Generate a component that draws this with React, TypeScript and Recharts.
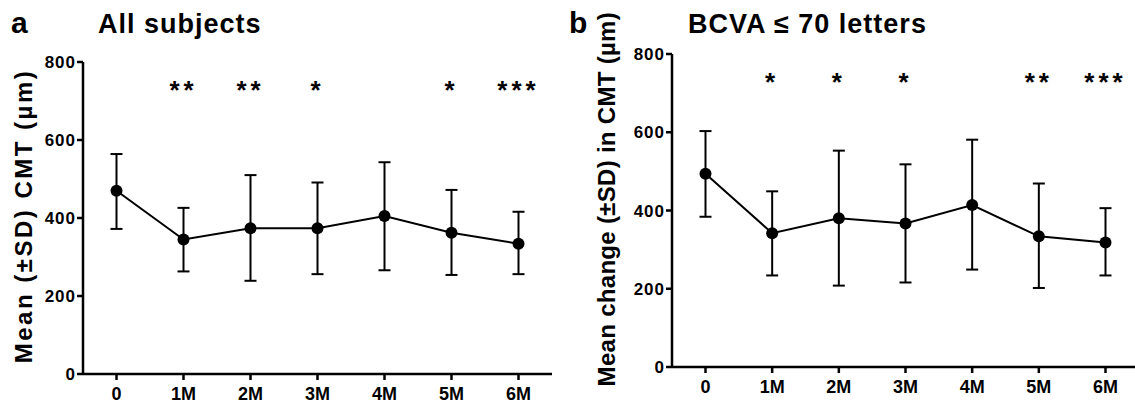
import React from "react";
import {
  LineChart,
  Line,
  XAxis,
  YAxis,
  ErrorBar,
  LabelList,
} from "recharts";

const FONT = '"Liberation Sans", Arial, sans-serif';

const months = ["0", "1M", "2M", "3M", "4M", "5M", "6M"];
const yTicks = [0, 200, 400, 600, 800];

// panel a - all subjects
const allMean = [470, 345, 374, 374, 405, 362, 334];
const allUpper = [564, 426, 510, 491, 543, 472, 416];
const allLower = [372, 263, 239, 256, 266, 254, 256];
const allStars = ["", "**", "**", "*", "", "*", "***"];

// panel b - BCVA <= 70 letters
const bcvaMean = [494, 342, 380, 367, 414, 334, 318];
const bcvaUpper = [603, 449, 553, 518, 581, 469, 406];
const bcvaLower = [384, 234, 208, 216, 249, 202, 234];
const bcvaStars = ["", "*", "*", "*", "", "**", "***"];

const STAR_LEVEL = 728;

function buildRows(mean: number[], upper: number[], lower: number[], stars: string[]) {
  return months.map((m, i) => ({
    month: m,
    mean: mean[i],
    err: [mean[i] - lower[i], upper[i] - mean[i]],
    stars: stars[i],
    starY: STAR_LEVEL,
  }));
}

const tickStyle = {
  fill: "#000",
  fontSize: 18,
  fontWeight: "bold",
  fontFamily: FONT,
};

const yTickStyle = {
  fill: "#000",
  fontSize: 17,
  fontWeight: "bold",
  fontFamily: FONT,
  letterSpacing: 1,
};

function Panel({
  data,
  width,
  yAxisWidth,
  top,
  right,
  xAxisHeight,
  xTickMargin,
}: any) {
  return (
    <LineChart
      width={width}
      height={404}
      data={data}
      margin={{ top, right, bottom: 0, left: 0 }}
    >
      <XAxis
        dataKey="month"
        padding={{ left: 33.5, right: 33.5 }}
        axisLine={{ stroke: "#000", strokeWidth: 2.5 }}
        tickLine={{ stroke: "#000", strokeWidth: 2.5 }}
        tickSize={6}
        tickMargin={xTickMargin}
        height={xAxisHeight}
        tick={tickStyle}
        interval={0}
      />
      <YAxis
        domain={[0, 800]}
        ticks={yTicks}
        width={yAxisWidth}
        axisLine={{ stroke: "#000", strokeWidth: 2.5 }}
        tickLine={{ stroke: "#000", strokeWidth: 2.5 }}
        tickSize={6}
        tickMargin={1}
        tick={yTickStyle}
        allowDataOverflow
      />
      <Line
        dataKey="mean"
        stroke="#000"
        strokeWidth={2}
        dot={{ r: 6, fill: "#000", stroke: "#000", strokeWidth: 0 }}
        activeDot={false}
        isAnimationActive={false}
      >
        <ErrorBar
          dataKey="err"
          width={6}
          stroke="#000"
          strokeWidth={2}
          direction="y"
        />
      </Line>
      <Line
        dataKey="starY"
        stroke="none"
        dot={false}
        activeDot={false}
        isAnimationActive={false}
      >
        <LabelList
          dataKey="stars"
          position="center"
          fill="#000"
          fontSize={26}
          fontWeight="bold"
          fontFamily={FONT}
          letterSpacing={4}
        />
      </Line>
    </LineChart>
  );
}

export default function App() {
  const rowsA = buildRows(allMean, allUpper, allLower, allStars);
  const rowsB = buildRows(bcvaMean, bcvaUpper, bcvaLower, bcvaStars);

  return (
    <div
      style={{
        position: "absolute",
        left: 0,
        top: 0,
        width: 1135,
        height: 404,
        overflow: "hidden",
        background: "#fff",
      }}
    >
      <div style={{ position: "absolute", left: 0, top: 0 }}>
        <Panel
          data={rowsA}
          width={560}
          yAxisWidth={83}
          top={62}
          right={8}
          xAxisHeight={30}
          xTickMargin={7}
        />
      </div>
      <div style={{ position: "absolute", left: 565, top: 0 }}>
        <Panel
          data={rowsB}
          width={574}
          yAxisWidth={107}
          top={54}
          right={0}
          xAxisHeight={37}
          xTickMargin={7}
        />
      </div>
      <svg
        width={1135}
        height={404}
        style={{ position: "absolute", left: 0, top: 0, pointerEvents: "none" }}
        fontFamily={FONT}
        fontWeight="bold"
        fill="#000"
      >
        <text x={11} y={33} fontSize={30}>a</text>
        <text x={98} y={33} fontSize={27} letterSpacing={1}>All subjects</text>
        <text
          x={32}
          y={216}
          fontSize={24}
          letterSpacing={2.5}
          textAnchor="middle"
          transform="rotate(-90 32 216)"
        >
          Mean (±SD) CMT (µm)
        </text>

        <text x={569} y={33} fontSize={30}>b</text>
        <text x={688} y={33} fontSize={27} letterSpacing={1}>BCVA ≤ 70 letters</text>
        <text
          x={615}
          y={12}
          fontSize={24}
          letterSpacing={0.3}
          textAnchor="end"
          transform="rotate(-90 615 12)"
        >
          Mean change (±SD) in CMT (µm)
        </text>
      </svg>
    </div>
  );
}
